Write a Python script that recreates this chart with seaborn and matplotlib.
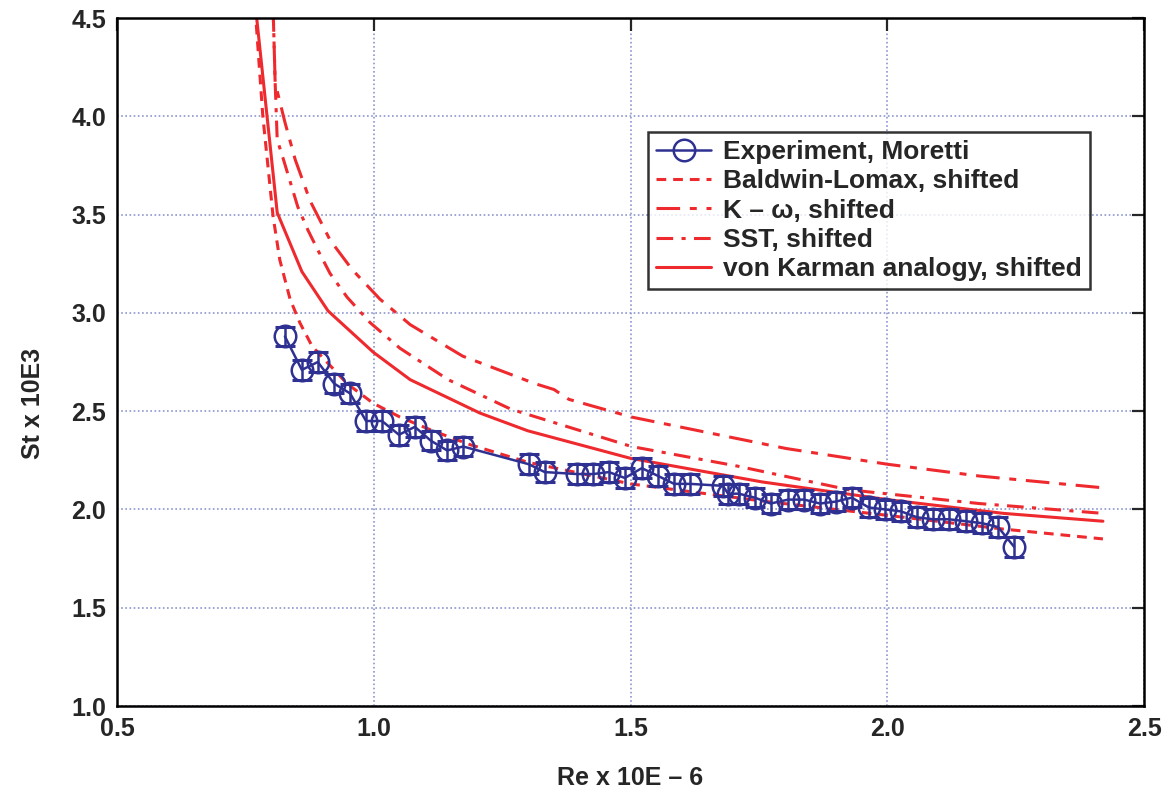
import matplotlib
matplotlib.use("Agg")
import matplotlib.pyplot as plt
import seaborn as sns

# Experiment, Moretti
re_exp = [0.827, 0.860, 0.891, 0.923, 0.954, 0.985, 1.016, 1.049, 1.080, 1.111,
          1.143, 1.174, 1.302, 1.333, 1.396, 1.427, 1.458, 1.489, 1.522, 1.554,
          1.585, 1.616, 1.680, 1.690, 1.711, 1.742, 1.773, 1.807, 1.838, 1.869,
          1.900, 1.931, 1.964, 1.996, 2.027, 2.058, 2.089, 2.120, 2.153, 2.185,
          2.216, 2.247]
st_exp = [2.88, 2.71, 2.75, 2.64, 2.59, 2.45, 2.45, 2.38, 2.42, 2.35,
          2.30, 2.32, 2.23, 2.19, 2.18, 2.18, 2.19, 2.16, 2.21, 2.17,
          2.13, 2.13, 2.12, 2.08, 2.08, 2.06, 2.03, 2.05, 2.05, 2.03,
          2.04, 2.06, 2.01, 2.00, 1.99, 1.96, 1.95, 1.95, 1.94, 1.93,
          1.91, 1.81]
st_err = 0.05

# Baldwin-Lomax, shifted
re_bl = [0.769, 0.784, 0.804, 0.817, 0.837, 0.856, 0.880, 0.948, 0.999, 1.051,
         1.115, 1.187, 1.30, 1.50, 1.765, 2.0, 2.226, 2.42]
st_bl = [4.55, 4.00, 3.49, 3.27, 3.07, 2.95, 2.83, 2.64, 2.54, 2.47,
         2.40, 2.33, 2.24, 2.13, 2.04, 1.97, 1.90, 1.85]

# K - omega, shifted
re_kw = [0.804, 0.808, 0.827, 0.847, 0.876, 0.915, 0.958, 1.012, 1.071, 1.173,
         1.314, 1.351, 1.380, 1.502, 1.652, 1.803, 2.0, 2.179, 2.42]
st_kw = [4.55, 4.17, 3.97, 3.78, 3.57, 3.37, 3.22, 3.07, 2.94, 2.78,
         2.64, 2.61, 2.56, 2.47, 2.39, 2.31, 2.23, 2.17, 2.11]

# SST, shifted
re_sst = [0.804, 0.808, 0.812, 0.823, 0.852, 0.872, 0.891, 0.915, 0.948, 0.993,
          1.051, 1.145, 1.267, 1.502, 1.709, 1.925, 2.179, 2.42]
st_sst = [4.55, 4.17, 3.88, 3.79, 3.54, 3.42, 3.32, 3.20, 3.08, 2.95,
          2.82, 2.66, 2.51, 2.32, 2.22, 2.10, 2.03, 1.98]

# von Karman analogy, shifted
re_vk = [0.770, 0.812, 0.860, 0.911, 0.999, 1.071, 1.143, 1.207, 1.30, 1.50,
         1.756, 2.0, 2.226, 2.42]
st_vk = [4.55, 3.51, 3.21, 3.01, 2.80, 2.66, 2.57, 2.49, 2.40, 2.26,
         2.14, 2.05, 1.98, 1.94]

x_ticks = [0.5, 1.0, 1.5, 2.0, 2.5]
y_ticks = [1.0, 1.5, 2.0, 2.5, 3.0, 3.5, 4.0, 4.5]

RED = "#ee2a2e"
BLUE = "#2e3192"

sns.set_theme(style="white")
plt.rcParams["font.family"] = ["Liberation Sans", "DejaVu Sans"]
plt.rcParams["font.weight"] = "bold"
plt.rcParams["lines.scale_dashes"] = False

fig = plt.figure(figsize=(11.74, 7.99), dpi=100)
ax = fig.add_axes([117 / 1174, 1 - 706 / 799, 1027 / 1174, 688 / 799])

# experiment with error bars
ax.errorbar(re_exp, st_exp, yerr=st_err, fmt="none", ecolor=BLUE,
            elinewidth=1.8, capsize=7.5, capthick=2.2, zorder=4)
sns.lineplot(x=re_exp, y=st_exp, ax=ax, color=BLUE, lw=1.8, marker="o",
             markersize=15.5, markerfacecolor="none", markeredgecolor=BLUE,
             markeredgewidth=1.8, label="Experiment, Moretti", sort=False,
             estimator=None, zorder=5)

sns.lineplot(x=re_bl, y=st_bl, ax=ax, color=RED, lw=2.2, sort=False, estimator=None,
             dashes=False, linestyle=(0, (7, 5)), label="Baldwin-Lomax, shifted")
sns.lineplot(x=re_kw, y=st_kw, ax=ax, color=RED, lw=2.2, sort=False, estimator=None,
             dashes=False, linestyle=(0, (17, 7, 5, 7)), label="K \u2013 \u03c9, shifted")
sns.lineplot(x=re_sst, y=st_sst, ax=ax, color=RED, lw=2.2, sort=False, estimator=None,
             dashes=False, linestyle=(0, (12, 6, 3, 6)), label="SST, shifted")
sns.lineplot(x=re_vk, y=st_vk, ax=ax, color=RED, lw=2.2, sort=False, estimator=None,
             label="von Karman analogy, shifted")

ax.set_xlim(0.5, 2.5)
ax.set_ylim(1.0, 4.5)
ax.set_xticks(x_ticks)
ax.set_yticks(y_ticks)
ax.set_xticklabels([f"{v:.1f}" for v in x_ticks])
ax.set_yticklabels([f"{v:.1f}" for v in y_ticks])
ax.grid(True, color="#8c96cf", linestyle=(0, (1.2, 1.8)), linewidth=1.2)
ax.tick_params(direction="in", length=9, width=1.6, top=True, right=True,
               labelsize=18, pad=8)
for lab in ax.get_xticklabels() + ax.get_yticklabels():
    lab.set_fontweight("bold")
for s in ax.spines.values():
    s.set_color("black")
    s.set_linewidth(1.8)

ax.set_xlabel("Re x 10E \u2013 6", fontsize=18, fontweight="bold", labelpad=18)
ax.set_ylabel("St x 10E3", fontsize=18, fontweight="bold")
ax.yaxis.set_label_coords(-0.07, 0.44)

leg = ax.legend(loc="upper left", bbox_to_anchor=(0.517, 0.834), fontsize=19,
                frameon=True, fancybox=False, handlelength=2.1,
                labelspacing=0.2, borderpad=0.3, handletextpad=0.45,
                borderaxespad=0)
leg.get_frame().set_edgecolor("black")
leg.get_frame().set_linewidth(1.8)
for t in leg.get_texts():
    t.set_fontweight("bold")

fig.savefig("out.png", dpi=100)
